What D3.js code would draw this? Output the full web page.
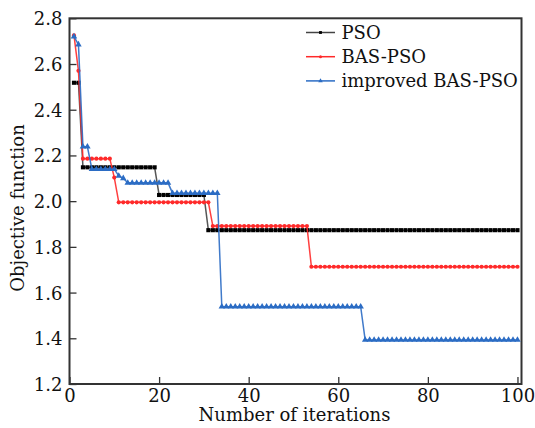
<!DOCTYPE html>
<html>
<head>
<meta charset="utf-8">
<script src="https://cdn.jsdelivr.net/npm/d3@7"></script>
<style>
html,body{margin:0;padding:0;background:#fff;}
svg{display:block;}
text{font-family:"DejaVu Serif",serif;fill:#111;}
</style>
</head>
<body>
<script>
// Data (iterations 1..100), step segments as [startIter, endIter, value]
const iterations = d3.range(1, 101);
const psoSteps = [[1,2,2.518],[3,19,2.148],[20,30,2.027],[31,100,1.873]];
const basSteps = [[1,1,2.725],[2,2,2.57],[3,9,2.186],[10,10,2.103],[11,31,1.995],[32,53,1.891],[54,100,1.713]];
const impSteps = [[1,1,2.72],[2,2,2.685],[3,4,2.238],[5,10,2.14],[11,11,2.11],[12,12,2.10],[13,22,2.08],[23,33,2.035],[34,65,1.538],[66,100,1.393]];
const seriesNames = ["PSO","BAS-PSO","improved BAS-PSO"];
const seriesColors = ["#444444","#ff2a2a","#2b6cc4"];
const markerColors = ["#000000","#ff2a2a","#2b6cc4"];
const xTicks = [0,20,40,60,80,100];
const yTicks = [1.2,1.4,1.6,1.8,2.0,2.2,2.4,2.6,2.8];

function expand(steps){
  const out=[];
  steps.forEach(([a,b,v])=>{for(let i=a;i<=b;i++) out.push({x:i,y:v});});
  return out;
}
const series = [expand(psoSteps), expand(basSteps), expand(impSteps)];

const W=535,H=428;
const L=69.5, R=521.5, T=18.3, B=384;
const svg=d3.select("body").append("svg").attr("width",W).attr("height",H);
const x=d3.scaleLinear().domain([0,100.9]).range([L,R]);
const y=d3.scaleLinear().domain([1.2,2.8]).range([B,T]);

// axes
const xAxis=d3.axisBottom(x).tickValues(xTicks).tickFormat(d3.format("d")).tickSizeInner(-7).tickSizeOuter(0).tickPadding(5);
const yAxis=d3.axisLeft(y).tickValues(yTicks).tickFormat(d3.format(".1f")).tickSizeInner(-7).tickSizeOuter(0).tickPadding(7);
const gx=svg.append("g").attr("transform",`translate(0,${B})`).call(xAxis);
const gy=svg.append("g").attr("transform",`translate(${L},0)`).call(yAxis);
[gx,gy].forEach(g=>{
  g.select(".domain").remove();
  g.selectAll(".tick line").attr("stroke","#333").attr("stroke-width",1.3);
  g.selectAll(".tick text").style("font-family","DejaVu Serif").style("font-size","18px").attr("fill","#111");
});
gy.selectAll(".tick text").attr("dy","0.36em");

// frame
svg.append("rect").attr("x",L).attr("y",T).attr("width",R-L).attr("height",B-T)
  .attr("fill","none").attr("stroke","#333").attr("stroke-width",2);

const line=d3.line().x(d=>x(d.x)).y(d=>y(d.y));
const plot=svg.append("g");

const tri=d3.symbol().type(d3.symbolTriangle).size(18);
const sq=d3.symbol().type(d3.symbolSquare).size(17);

series.forEach((data,i)=>{
  const c=seriesColors[i];
  plot.append("path").datum(data).attr("d",line).attr("fill","none")
    .attr("stroke",c).attr("stroke-width",1.5).attr("opacity",0.9);
  const g=plot.append("g");
  if(i===0){
    g.selectAll("path").data(data).join("path").attr("d",sq)
      .attr("transform",d=>`translate(${x(d.x)},${y(d.y)})`).attr("fill",markerColors[i]);
  } else if(i===1){
    g.selectAll("circle").data(data).join("circle")
      .attr("cx",d=>x(d.x)).attr("cy",d=>y(d.y)).attr("r",2.1).attr("fill",markerColors[i]);
  } else {
    g.selectAll("path").data(data).join("path").attr("d",tri)
      .attr("transform",d=>`translate(${x(d.x)},${y(d.y)})`).attr("fill",markerColors[i]);
  }
});

// legend
const lg=svg.append("g");
seriesNames.forEach((n,i)=>{
  const yy=32.5+i*24.2;
  lg.append("line").attr("x1",306).attr("x2",335).attr("y1",yy).attr("y2",yy)
    .attr("stroke",seriesColors[i]).attr("stroke-width",1.5);
  if(i===0) lg.append("path").attr("d",d3.symbol().type(d3.symbolSquare).size(8)).attr("transform",`translate(320.5,${yy})`).attr("fill","#000");
  else if(i===1) lg.append("circle").attr("cx",320.5).attr("cy",yy).attr("r",1.5).attr("fill",seriesColors[i]);
  else lg.append("path").attr("d",d3.symbol().type(d3.symbolTriangle).size(9)).attr("transform",`translate(320.5,${yy})`).attr("fill",seriesColors[i]);
  lg.append("text").attr("x",341.5).attr("y",yy+6.5).style("font-size","18px").text(n);
});

// axis titles
svg.append("text").attr("x",(L+R)/2 - 1).attr("y",421).attr("text-anchor","middle")
  .style("font-size","18px").text("Number of iterations");
svg.append("text").attr("transform",`translate(24,${208}) rotate(-90)`).attr("text-anchor","middle")
  .style("font-size","18px").text("Objective function");
</script>
</body>
</html>
